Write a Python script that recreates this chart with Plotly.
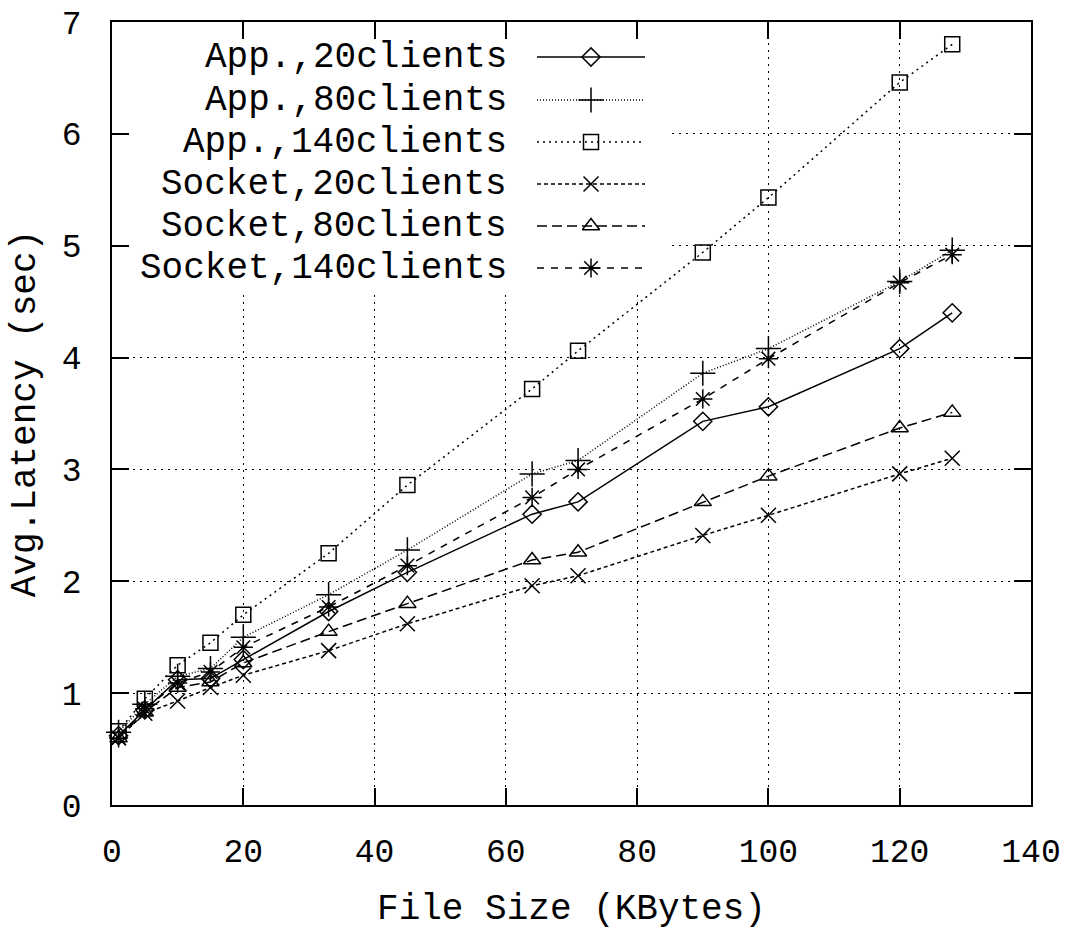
import plotly.graph_objects as go

# ---- data ----
file_size = [1, 5, 10, 15, 20, 33, 45, 64, 71, 90, 100, 120, 128]
app_20 = [0.62, 0.85, 1.12, 1.13, 1.30, 1.73, 2.08, 2.60, 2.71, 3.43, 3.56, 4.08, 4.40]
app_80 = [0.65, 0.90, 1.15, 1.22, 1.50, 1.88, 2.28, 2.96, 3.08, 3.86, 4.08, 4.68, 4.96]
app_140 = [0.66, 0.95, 1.25, 1.45, 1.70, 2.25, 2.86, 3.72, 4.06, 4.94, 5.43, 6.46, 6.80]
sock_20 = [0.60, 0.82, 0.93, 1.05, 1.16, 1.38, 1.62, 1.96, 2.05, 2.41, 2.59, 2.96, 3.10]
sock_80 = [0.60, 0.83, 1.05, 1.10, 1.27, 1.55, 1.80, 2.19, 2.26, 2.71, 2.94, 3.37, 3.51]
sock_140 = [0.60, 0.86, 1.09, 1.19, 1.41, 1.77, 2.14, 2.75, 3.00, 3.63, 3.99, 4.67, 4.92]

series_names = ["App.,20clients", "App.,80clients", "App.,140clients",
                "Socket,20clients", "Socket,80clients", "Socket,140clients"]
series_values = [app_20, app_80, app_140, sock_20, sock_80, sock_140]

x_ticks = [0, 20, 40, 60, 80, 100, 120, 140]
y_ticks = [0, 1, 2, 3, 4, 5, 6, 7]

# ---- styles ----
styles = [
    dict(dash="solid", symbol="diamond-open", size=14),
    dict(dash="1px,2px", symbol="cross-thin-open", size=18),
    dict(dash="2px,4px", symbol="square-open", size=15),
    dict(dash="4px,3px", symbol="x-thin-open", size=15),
    dict(dash="10px,5px", symbol="triangle-up-open", size=15),
    dict(dash="7px,7px", symbol="asterisk-open", size=16),
]

FONT = "Liberation Mono"
fig = go.Figure()

for name, vals, st in zip(series_names, series_values, styles):
    fig.add_trace(go.Scatter(
        x=file_size, y=vals, mode="lines+markers", name=name,
        line=dict(color="black", width=1.5, dash=st["dash"]),
        marker=dict(symbol=st["symbol"], size=st["size"], color="black",
                    line=dict(color="black", width=1.5)),
        showlegend=False, cliponaxis=False,
    ))

# ---- custom legend (text left, sample right) on an overlay pixel axis ----
leg_rows = [748, 705, 663, 621, 579, 537]
for name, st, yy in zip(series_names, styles, leg_rows):
    fig.add_trace(go.Scatter(
        x=[425, 533], y=[yy, yy], mode="lines", xaxis="x2", yaxis="y2",
        line=dict(color="black", width=1.5, dash=st["dash"]),
        showlegend=False, hoverinfo="skip",
    ))
    fig.add_trace(go.Scatter(
        x=[479], y=[yy], mode="markers", xaxis="x2", yaxis="y2",
        marker=dict(symbol=st["symbol"], size=st["size"], color="black",
                    line=dict(color="black", width=1.5)),
        showlegend=False, hoverinfo="skip",
    ))
    fig.add_annotation(x=397, y=yy, xref="x2", yref="y2", text=name,
                       showarrow=False, xanchor="right", yanchor="middle",
                       font=dict(family=FONT, size=36, color="black"))

# white area hiding grid behind the legend
fig.add_shape(type="rect", xref="x", yref="y", x0=0, x1=85, y0=4.57, y1=7,
              fillcolor="white", line=dict(width=0), layer="between")

axis_common = dict(
    showline=True, linecolor="black", linewidth=1.5, mirror="ticks",
    ticks="inside", ticklen=17, tickwidth=1.5, tickcolor="black",
    showgrid=True, gridcolor="black", gridwidth=1, griddash="2px,5px",
    zeroline=False, automargin=False,
    tickfont=dict(family=FONT, size=33, color="black"),
)

fig.update_layout(
    width=1065, height=930,
    margin=dict(l=112, r=34, t=22, b=125),
    plot_bgcolor="white", paper_bgcolor="white",
    xaxis=dict(range=[0, 140], tickvals=x_ticks, ticklabelstandoff=16,
               title=dict(text="File Size (KBytes)", standoff=22,
                          font=dict(family=FONT, size=36, color="black")),
               **axis_common),
    yaxis=dict(range=[0, 7], tickvals=y_ticks, ticklabelstandoff=22,
               title=dict(text="Avg.Latency (sec)", standoff=15,
                          font=dict(family=FONT, size=36, color="black")),
               **axis_common),
    xaxis2=dict(range=[0, 919], overlaying="x", visible=False, fixedrange=True,
                automargin=False),
    yaxis2=dict(range=[0, 783], overlaying="y", visible=False, fixedrange=True,
                automargin=False),
)

fig.write_html(
    "out.html",
    config={"displayModeBar": False},
    post_script="document.body.style.margin='0px';"
                "document.body.style.overflow='hidden';",
)
